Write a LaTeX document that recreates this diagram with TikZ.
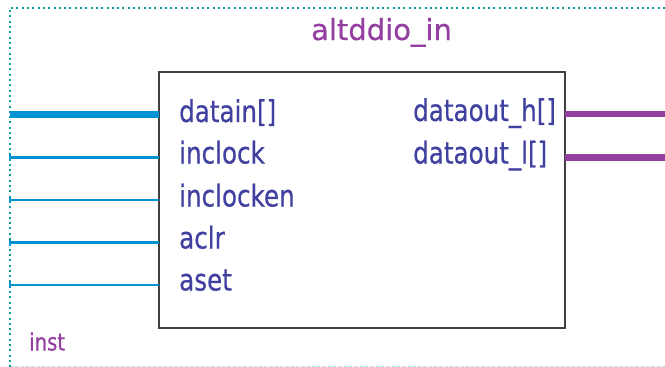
\documentclass[tikz,border=0pt]{standalone}
\usepackage{fontspec}
\newfontfamily\pinfont[FakeStretch=0.82,FakeBold=0.5]{DejaVu Sans}
\newfontfamily\titlefont[FakeBold=0.5]{DejaVu Sans}
\definecolor{pinblue}{RGB}{64,64,160}
\definecolor{symbolpurple}{RGB}{148,64,160}
\definecolor{wireblue}{RGB}{0,148,212}
\definecolor{framecyan}{RGB}{16,156,156}
\definecolor{framelight}{RGB}{168,226,226}
\definecolor{boxgray}{RGB}{64,64,64}

\begin{document}
\begin{tikzpicture}[x=1pt,y=-1pt,
  pinlabel/.style={font=\pinfont\fontsize{30}{36}\selectfont, text=pinblue, inner sep=0pt},
  titlelabel/.style={font=\titlefont\fontsize{29}{34}\selectfont, text=symbolpurple, inner sep=0pt},
  instlabel/.style={font=\pinfont\fontsize{24}{30}\selectfont, text=symbolpurple, inner sep=0pt},
  symbolbox/.style={draw=boxgray, line width=2.8pt, rectangle, inner sep=0pt, outer sep=0pt,
    minimum width=406pt, minimum height=256pt, anchor=north west},
  busin/.style={draw=wireblue, line width=6.5pt},
  wirein/.style={draw=wireblue, line width=2.8pt},
  pintick/.style={draw=wireblue, line width=1.6pt},
  busout/.style={draw=symbolpurple, line width=6.5pt},
  frametop/.style={draw=framecyan, line width=2pt, dash pattern=on 2pt off 3.3pt},
  framebottom/.style={draw=framelight, line width=1pt, dash pattern=on 3pt off 2.3pt}]
\useasboundingbox (0,0) rectangle (665,367);

% instance frame
\coordinate (fTL) at (10,8);
\coordinate (fTR) at (665,8);
\coordinate (fBL) at (10,366);
\coordinate (fBR) at (665,366);
\draw[framebottom] (fBL) -- (fBR);
\draw[frametop] (fTR) -- (fTL) -- (10,367);

% symbol body
\node[symbolbox] (blk) at (159,72) {};

% title and instance name
\node[titlelabel, anchor=base] (title) at (381.5,40) {altddio\_in};
\node[instlabel, anchor=base west] (inst) at (29,350.5) {inst};

% input ports
\coordinate (in1) at (10,114.5);
\coordinate (in2) at (10,157.3);
\coordinate (in3) at (10,200);
\coordinate (in4) at (10,242.7);
\coordinate (in5) at (10,285);
\draw[busin] (in1) -- (in1 -| blk.west);
\foreach \p in {in2,in3,in4,in5}{
  \draw[wirein] (\p) -- (\p -| blk.west);
  \draw[pintick] ([yshift=-3pt]\p) -- ([yshift=3pt]\p);
}

% output ports
\coordinate (out1) at (665,113.8);
\coordinate (out2) at (665,157.5);
\draw[busout] (out1 -| blk.east) -- (out1);
\draw[busout] (out2 -| blk.east) -- (out2);

% port names
\node[pinlabel, anchor=base west] (pdatain) at (179,122) {datain[]};
\node[pinlabel, anchor=base west] (pinclock) at (179,163.5) {inclock};
\node[pinlabel, anchor=base west] (pinclocken) at (179,206.5) {inclocken};
\node[pinlabel, anchor=base west] (paclr) at (179,248.5) {aclr};
\node[pinlabel, anchor=base west] (paset) at (179,290.5) {aset};
\node[pinlabel, anchor=base west] (pdoh) at (413,121) {dataout\_h[]};
\node[pinlabel, anchor=base west] (pdol) at (413,163.5) {dataout\_l[]};
\end{tikzpicture}
\end{document}
